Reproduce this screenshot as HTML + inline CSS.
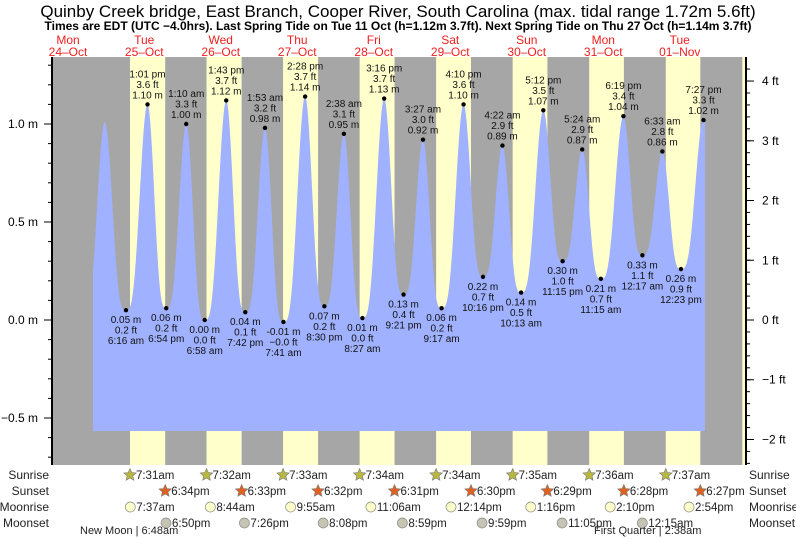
<!DOCTYPE html>
<html><head><meta charset="utf-8"><style>
body{margin:0;background:#fff}
svg{display:block;font-family:"Liberation Sans",sans-serif}
</style></head><body>
<svg id="c" width="796" height="539" viewBox="0 0 796 539">
<text x="398" y="17" text-anchor="middle" font-size="17" fill="#000">Quinby Creek bridge, East Branch, Cooper River, South Carolina (max. tidal range 1.72m 5.6ft)</text>
<text x="398" y="30" text-anchor="middle" font-size="12" font-weight="bold" fill="#000">Times are EDT (UTC −4.0hrs). Last Spring Tide on Tue 11 Oct (h=1.12m 3.7ft). Next Spring Tide on Thu 27 Oct (h=1.14m 3.7ft)</text>
<g id="g"></g>
<text x="80" y="534" font-size="11" fill="#222">New Moon | 6:48am</text>
<text x="594" y="534" font-size="11" fill="#222">First Quarter | 2:38am</text>
</svg>
<script>
// hours since Oct 24 00:00
const tideTimes=[17,23.6,30.27,37.02,42.9,49.17,54.97,61.72,67.7,73.88,79.68,86.47,92.5,98.63,104.45,111.27,117.35,123.45,129.28,136.17,142.27,148.37,154.22,161.2,167.25,173.4,179.25,186.32,192.28,198.55,204.38,211.45];
const tideHeights=[0.04,1.01,0.05,1.10,0.06,1.00,0.00,1.12,0.04,0.98,-0.01,1.14,0.07,0.95,0.01,1.13,0.13,0.92,0.06,1.10,0.22,0.89,0.14,1.07,0.30,0.87,0.21,1.04,0.33,0.86,0.26,1.02];
const tideFt=["","","0.2","3.6","0.2","3.3","0.0","3.7","0.1","3.2","−0.0","3.7","0.2","3.1","0.0","3.7","0.4","3.0","0.2","3.6","0.7","2.9","0.5","3.5","1.0","2.9","0.7","3.4","1.1","2.8","0.9","3.3"];
const tideLabels=["","","6:16 am","1:01 pm","6:54 pm","1:10 am","6:58 am","1:43 pm","7:42 pm","1:53 am","7:41 am","2:28 pm","8:30 pm","2:38 am","8:27 am","3:16 pm","9:21 pm","3:27 am","9:17 am","4:10 pm","10:16 pm","4:22 am","10:13 am","5:12 pm","11:15 pm","5:24 am","11:15 am","6:19 pm","12:17 am","6:33 am","12:23 pm","7:27 pm"];
const dayNames=["Mon","Tue","Wed","Thu","Fri","Sat","Sun","Mon","Tue"];
const dayDates=["24–Oct","25–Oct","26–Oct","27–Oct","28–Oct","29–Oct","30–Oct","31–Oct","01–Nov"];
const sunriseH=[31.52,55.53,79.55,103.57,127.57,151.58,175.6,199.62,223.63];
const sunsetH=[42.57,66.55,90.53,114.52,138.5,162.48,186.47,210.45];
const sunriseTxt=["7:31am","7:32am","7:33am","7:34am","7:34am","7:35am","7:36am","7:37am"];
const sunsetTxt=["6:34pm","6:33pm","6:32pm","6:31pm","6:30pm","6:29pm","6:28pm","6:27pm"];
const moonriseH=[31.62,56.73,81.92,107.1,132.23,157.27,182.17,206.9];
const moonriseTxt=["7:37am","8:44am","9:55am","11:06am","12:14pm","1:16pm","2:10pm","2:54pm"];
const moonsetH=[42.83,67.43,92.13,116.98,141.98,167.08,192.25];
const moonsetTxt=["6:50pm","7:26pm","8:08pm","8:59pm","9:59pm","11:05pm","12:15am"];
const mTicks=[1.0,0.5,0.0,-0.5];
const mTickTxt=["1.0 m","0.5 m","0.0 m","−0.5 m"];
const ftTicks=[4,3,2,1,0,-1,-2];
const ftTickTxt=["4 ft","3 ft","2 ft","1 ft","0 ft","−1 ft","−2 ft"];

const X0=53,X1=745,Y0=57,Y1=465;
const xs=t=>29.5+3.1875*t;
const ym=m=>320-196*m;
const yf=f=>ym(f*0.3048);
const NS="http://www.w3.org/2000/svg";
const g=document.getElementById('g');
function mk(tag,at,txt){const e=document.createElementNS(NS,tag);for(const k in at)e.setAttribute(k,at[k]);if(txt!==undefined)e.textContent=txt;g.appendChild(e);return e;}

let bg=mk('rect',{x:X0,y:Y0,width:X1-X0,height:Y1-Y0,fill:'#a6a6a6'});


sunriseH.forEach((sr,i)=>{
  const a=xs(sr), b=i<sunsetH.length?xs(sunsetH[i]):X1;
  const r=mk('rect',{x:a,y:Y0,width:Math.min(b,X1)-a,height:Y1-Y0,fill:'#ffffcc'});
  
  
});
// tide curve
const tStart=19.9,tEnd=211.9;
function level(t){
  for(let i=0;i<tideTimes.length-1;i++){
    if(t>=tideTimes[i]&&t<=tideTimes[i+1]){
      const u=(t-tideTimes[i])/(tideTimes[i+1]-tideTimes[i]);
      let a=tideHeights[i],b=tideHeights[i+1];
      let lo=Math.min(a,b),hi=Math.max(a,b);
      let w=(1-Math.cos(Math.PI*u))/2; if(b<a)w=1-w;
      return lo+(hi-lo)*Math.pow(w,1.7);
    }
  }
  return tideHeights[tideHeights.length-1];
}
let d=`M${xs(tStart)},431`;
for(let t=tStart;t<=tEnd;t+=0.25)d+=`L${xs(t).toFixed(2)},${ym(level(t)).toFixed(2)}`;
d+=`L${xs(tEnd)},${ym(level(tEnd))}L${xs(tEnd)},431Z`;
const area=mk('path',{d:d,fill:'#9fb1ff'});


// extreme labels
tideTimes.forEach((t,i)=>{
  if(!tideLabels[i])return;
  const x=xs(t),y=ym(tideHeights[i]);
  const hiPt=i%2==1;
  const dot=mk('circle',{cx:x,cy:y,r:2.2,fill:'#000'});
  
  
  const lines=hiPt?[tideLabels[i],tideFt[i]+" ft",tideHeights[i].toFixed(2)+" m"]:[tideHeights[i].toFixed(2)+" m",tideFt[i]+" ft",tideLabels[i]];
  const base=hiPt?y-27:y+13;
  lines.forEach((s,k)=>{
    const tx=mk('text',{x:x,y:base+k*10.5,'font-size':10,'text-anchor':'middle',fill:'#111'},s);
    
    
  });
});
// day labels
dayNames.forEach((n,i)=>{
  const x=i==0?68:xs(24*i+12);
  const a=mk('text',{x:x,y:44,'font-size':12,'text-anchor':'middle',fill:'#f02020'},n);
  
  
  const b=mk('text',{x:x,y:56,'font-size':12,'text-anchor':'middle',fill:'#f02020'},dayDates[i]);
  
  
});
// axes
const la=mk('line',{x1:X0-1,y1:Y0,x2:X0-1,y2:Y1,stroke:'#000','stroke-width':2});


const ra=mk('line',{x1:X1+1,y1:Y0,x2:X1+1,y2:Y1,stroke:'#000','stroke-width':2});


for(let v=-0.7;v<=1.3;v+=0.1){const y=ym(v);if(y<Y0||y>Y1)continue;const tk=mk('line',{x1:X0-5,y1:y,x2:X0,y2:y,stroke:'#000'});}
mTicks.forEach((v,i)=>{const y=ym(v);const tk=mk('line',{x1:X0-9,y1:y,x2:X0,y2:y,stroke:'#000'});
  const tx=mk('text',{x:38,y:y+4,'font-size':12,'text-anchor':'end',fill:'#000'},mTickTxt[i]);});
for(let f=-2.4;f<=4.4;f+=0.2){const y=yf(f);if(y<Y0||y>Y1)continue;const tk=mk('line',{x1:X1,y1:y,x2:X1+5,y2:y,stroke:'#000'});}
ftTicks.forEach((v,i)=>{const y=yf(v);const tk=mk('line',{x1:X1,y1:y,x2:X1+9,y2:y,stroke:'#000'});
  const tx=mk('text',{x:762,y:y+4,'font-size':12,fill:'#000'},ftTickTxt[i]);});
// bottom rows
const rows=["Sunrise","Sunset","Moonrise","Moonset"],rowY=[479,495,511,527];
rows.forEach((r,i)=>{
  const a=mk('text',{x:49,y:rowY[i],'font-size':12,'text-anchor':'end',fill:'#222'},r);
  const b=mk('text',{x:749,y:rowY[i],'font-size':12,fill:'#222'},r);
});
function star(cx,cy,fill){let p='';for(let k=0;k<10;k++){const rr=k%2?3:6.5,an=-Math.PI/2+k*Math.PI/5;p+=(k?'L':'M')+(cx+rr*Math.cos(an)).toFixed(1)+','+(cy+rr*Math.sin(an)).toFixed(1);}return mk('path',{d:p+'Z',fill:fill,stroke:'#777','stroke-width':0.6});}
function ev(arr,txt,row,kind){
  arr.forEach((t,i)=>{const x=xs(t),y=rowY[row]-4;
    let ic;
    if(kind=='sr')ic=star(x,y,'#b8b840');else if(kind=='ss')ic=star(x,y,'#e06020');
    else ic=mk('circle',{cx:x,cy:y,r:5,fill:kind=='mr'?'#ffffcc':'#c8c4b4',stroke:'#888','stroke-width':0.7});
    
    
    const tx=mk('text',{x:x+6,y:rowY[row],'font-size':11.5,fill:'#222'},txt[i]);
    
    
  });
}
ev(sunriseH.slice(0,8),sunriseTxt,0,'sr');ev(sunsetH,sunsetTxt,1,'ss');ev(moonriseH,moonriseTxt,2,'mr');ev(moonsetH,moonsetTxt,3,'ms');
</script>
</body></html>
